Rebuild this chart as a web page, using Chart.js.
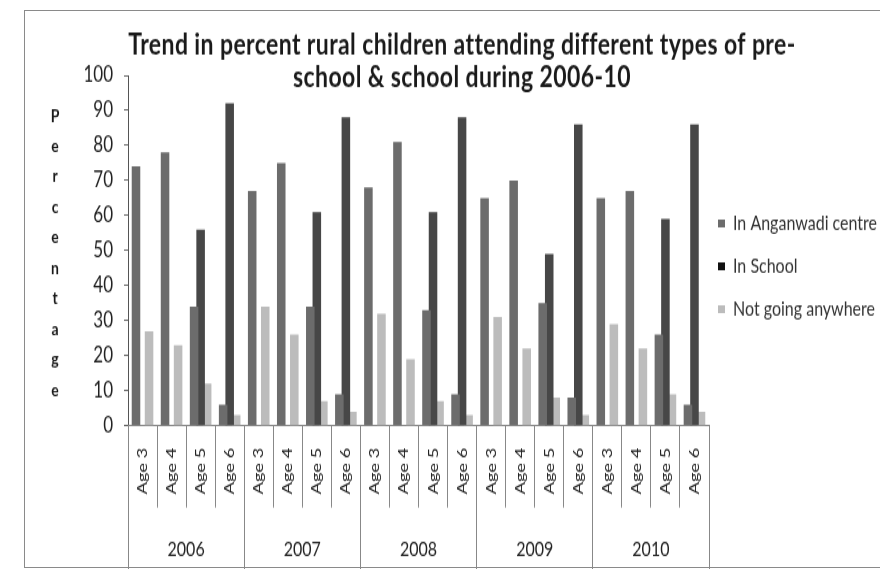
<!DOCTYPE html>
<html>
<head>
<meta charset="utf-8">
<script src="https://cdn.jsdelivr.net/npm/chart.js@4"></script>
<style>
  html, body { margin: 0; padding: 0; background: #fff; overflow: hidden; width: 880px; height: 569px; }
  #wrap { position: relative; width: 880px; height: 569px; }
  /* the chart is drawn on a shorter canvas and stretched to full height */
  #c { position: absolute; left: 0; top: 0; transform: scaleY(1.2991); transform-origin: 0 0; }
  #frame { position: absolute; left: 24px; top: 10px; width: 870px; height: 556px;
           border: 1px solid #8a8a8a; border-right: none; pointer-events: none; }
</style>
</head>
<body>
<div id="wrap">
  <canvas id="c" width="880" height="438"></canvas>
  <div id="frame"></div>
</div>
<script>
// ---- data ----
const years = ['2006', '2007', '2008', '2009', '2010'];
const ages = ['Age 3', 'Age 4', 'Age 5', 'Age 6'];
const categories = years.flatMap(() => ages);
const seriesNames = ['In Anganwadi centre', 'In School', 'Not going anywhere'];
const anganwadi = [74, 78, 34, 6,  67, 75, 34, 9,  68, 81, 33, 9,  65, 70, 35, 8,  65, 67, 26, 6];
const inSchool  = [0, 0, 56, 92,   0, 0, 61, 88,   0, 0, 61, 88,   0, 0, 49, 86,   0, 0, 59, 86];
const notGoing  = [27, 23, 12, 3,  34, 26, 7, 4,   32, 19, 7, 3,   31, 22, 8, 3,   29, 22, 9, 4];
const yTickValues = [0, 10, 20, 30, 40, 50, 60, 70, 80, 90, 100];
const titleLines = ['Trend in percent rural children attending different types of pre-',
                    'school & school during 2006-10'];
const yTitle = 'Percentage';

const seriesColors = ['#6c6c6c', '#474747', '#bcbcbc'];
const keyColors = ['#6c6c6c', '#111111', '#bcbcbc'];
const FONT = 'Lato, "Open Sans", sans-serif';

// title, stacked axis title and the key at the right
const decor = {
  id: 'decor',
  afterDraw(chart) {
    const ctx = chart.ctx;
    ctx.save();
    ctx.fillStyle = '#1a1a1a';
    ctx.textAlign = 'center';
    ctx.textBaseline = 'alphabetic';
    ctx.font = 'bold 23px ' + FONT;
    ctx.letterSpacing = '0.4px';
    ctx.fillText(titleLines[0], 462, 42);
    ctx.fillText(titleLines[1], 462, 67);
    ctx.letterSpacing = '0px';

    ctx.font = 'bold 14px ' + FONT;
    ctx.textBaseline = 'middle';
    const letters = yTitle.split('');
    const y0 = 89, y1 = 300;
    letters.forEach((ch, i) => {
      ctx.fillText(ch, 55, y0 + (y1 - y0) * i / (letters.length - 1));
    });

    ctx.textAlign = 'left';
    ctx.font = '16px ' + FONT;
    chart.data.datasets.forEach((ds, i) => {
      const cy = 172 + i * 33;
      ctx.fillStyle = keyColors[i];
      ctx.fillRect(718, cy - 3, 7, 6);
      ctx.fillStyle = '#333';
      ctx.fillText(ds.label, 733, cy);
    });
    ctx.restore();
  }
};

new Chart(document.getElementById('c'), {
  type: 'bar',
  data: {
    labels: categories,
    datasets: [
      { label: seriesNames[0], data: anganwadi, backgroundColor: seriesColors[0] },
      { label: seriesNames[1], data: inSchool,  backgroundColor: seriesColors[1] },
      { label: seriesNames[2], data: notGoing,  backgroundColor: seriesColors[2] }
    ]
  },
  options: {
    responsive: false,
    animation: false,
    devicePixelRatio: 1,
    layout: { padding: { left: 60, top: 58, right: 171, bottom: 0 } },
    datasets: { bar: { categoryPercentage: 0.674, barPercentage: 1.31 } },
    plugins: { legend: { display: false }, title: { display: false }, tooltip: { enabled: false } },
    scales: {
      y: {
        min: 0, max: 100,
        afterBuildTicks(s) { s.ticks = yTickValues.map(v => ({ value: v })); },
        ticks: { padding: 11, color: '#222', font: { family: FONT, size: 17 } },
        grid: { drawOnChartArea: false, tickLength: 4, color: '#666' },
        border: { color: '#555' },
        afterFit(s) { s.width = 68; }
      },
      x: {
        position: 'bottom', weight: 0,
        ticks: { minRotation: 90, maxRotation: 90, autoSkip: false, padding: -46,
                 color: '#222', font: { family: FONT, size: 14 } },
        grid: { drawOnChartArea: false, offset: true, tickLength: 63, color: '#888' },
        border: { color: '#888' },
        afterFit(s) { s.height = 54; }
      },
      x2: {
        type: 'category', labels: years, position: 'bottom', weight: 1, offset: true,
        ticks: { padding: -25, color: '#222', font: { family: FONT, size: 16 } },
        grid: { drawOnChartArea: false, offset: true, tickLength: 57, color: '#888' },
        border: { display: false },
        afterFit(s) { s.height = 56.3; }
      }
    }
  },
  plugins: [decor]
});
</script>
</body>
</html>
